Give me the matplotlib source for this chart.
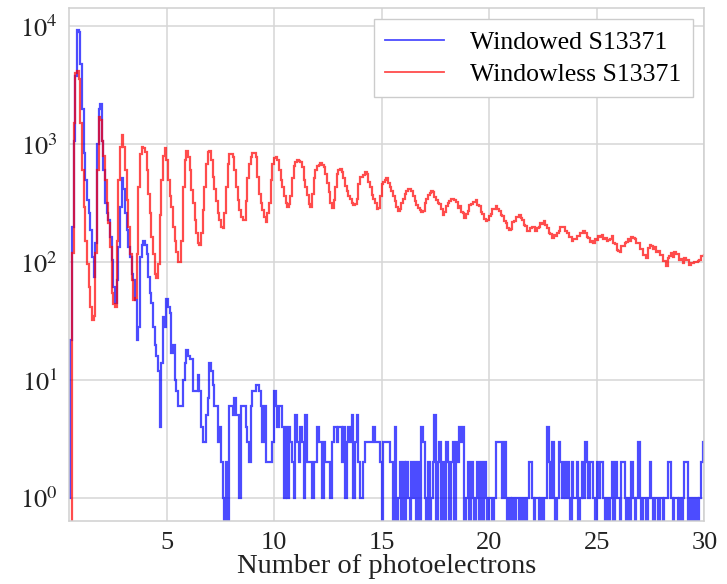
import numpy as np
import matplotlib
matplotlib.use("Agg")
import matplotlib.pyplot as plt

# ---- binning (13 bins per photoelectron, starting at 0.45 pe) ----
bin_start = 0.45
bins_per_pe = 13

# ---- Windowed S13371 (blue) counts per bin, one row per photoelectron ----
blue_counts = [
    1, 22, 200, 1070, 3800, 9300, 9000, 4800, 2000, 840, 500, 335, 260,   # 0.45-1.45
    186, 110, 75, 145, 1000, 2000, 2200, 1070, 600, 315, 260, 227, 163,   # 1.45-2.45
    104, 62, 45, 70, 134, 295, 520, 420, 260, 186, 134, 110, 80,          # 2.45-3.45
    70, 48, 22, 28, 110, 139, 150, 140, 118, 75, 55, 45, 28,              # 3.45-4.45
    20, 16, 12, 4, 14, 34, 28, 49, 42, 37, 17, 20, 10,                    # 4.45-5.45
    8, 6, 6, 6, 10, 14, 18, 16, 15, 15, 8, 8, 8,                          # 5.45-6.45
    11, 8, 4, 3, 3, 5, 7, 14, 12, 9, 6, 6, 3,                             # 6.45-7.45
    4, 2, 1, 0, 2, 0, 6, 6, 5, 7, 5, 5, 1,                                # 7.45-8.45
    6, 6, 6, 4, 3, 2, 6, 8, 8, 9, 9, 8, 6,                                # 8.45-9.45
    3, 6, 2, 2, 2, 2, 3, 8, 6, 4, 6, 6, 4,                                # 9.45-10.45
    1, 4, 1, 4, 3, 2, 1, 5, 3, 2, 4, 3, 1,                                # 10.45-11.45
    5, 2, 2, 2, 1, 2, 2, 4, 3, 3, 1, 3, 2,                                # 11.45-12.45
    2, 2, 1, 3, 4, 4, 3, 4, 4, 2, 4, 1, 3,                                # 12.45-13.45
    4, 3, 5, 1, 3, 5, 2, 1, 1, 2, 3, 3, 3,                                # 13.45-14.45
    3, 3, 4, 3, 3, 3, 2, 0, 3, 3, 3, 3, 2,                                # 14.45-15.45
    2, 0, 4, 0, 1, 2, 0, 2, 0, 2, 1, 0, 2,                                # 15.45-16.45
    1, 2, 0, 2, 0, 4, 3, 1, 0, 2, 0, 1, 2,                                # 16.45-17.45
    5, 0, 2, 3, 0, 2, 0, 3, 2, 0, 2, 3, 0,                                # 17.45-18.45
    3, 2, 4, 3, 4, 0, 1, 2, 0, 2, 1, 0, 1,                                # 18.45-19.45
    2, 0, 2, 0, 2, 1, 0, 1, 1, 0, 1, 3, 3,                                # 19.45-20.45
    3, 3, 1, 3, 1, 0, 1, 0, 1, 0, 1, 1, 0,                                # 20.45-21.45
    1, 0, 1, 0, 1, 2, 2, 1, 0, 1, 1, 0, 1,                                # 21.45-22.45
    0, 1, 1, 4, 2, 1, 3, 1, 0, 1, 3, 2, 1,                                # 22.45-23.45
    2, 1, 2, 1, 0, 2, 1, 1, 2, 0, 1, 2, 1,                                # 23.45-24.45
    3, 2, 1, 2, 2, 1, 0, 2, 1, 2, 2, 1, 0,                                # 24.45-25.45
    1, 0, 1, 2, 0, 2, 1, 1, 0, 2, 2, 1, 0,                                # 25.45-26.45
    1, 0, 2, 1, 0, 1, 3, 1, 0, 1, 1, 0, 1,                                # 26.45-27.45
    2, 1, 0, 1, 1, 0, 1, 1, 0, 1, 1, 2, 2,                                # 27.45-28.45
    1, 0, 1, 1, 0, 1, 0, 1, 2, 2, 0, 1, 0,                                # 28.45-29.45
    1, 0, 1, 0, 1, 2, 3, 2,                                               # 29.45-30.06
]

# ---- Windowless S13371 (red) counts per bin ----
red_counts = [
    0, 0, 120, 1500, 4000, 4200, 3600, 1500, 600, 295, 150, 97, 62,            # 0.45-1.45
    42, 32, 35, 120, 600, 1700, 1600, 1070, 800, 500, 315, 215, 134,           # 1.45-2.45
    55, 44, 42, 150, 500, 950, 1200, 950, 600, 335, 200, 118, 70,              # 2.45-3.45
    48, 50, 118, 430, 830, 950, 930, 860, 600, 380, 260, 163, 118,             # 3.45-4.45
    80, 73, 97, 250, 500, 800, 920, 730, 500, 360, 295, 200, 150,              # 4.45-5.45
    122, 100, 100, 150, 430, 730, 875, 780, 600, 410, 315, 227, 175,           # 5.45-6.45
    145, 139, 175, 275, 430, 685, 850, 875, 730, 530, 420, 330, 260,           # 6.45-7.45
    227, 200, 193, 260, 430, 685, 830, 830, 780, 600, 430, 335, 275,           # 7.45-8.45
    240, 227, 227, 330, 520, 685, 780, 845, 845, 780, 530, 380, 315,           # 8.45-9.45
    275, 240, 220, 260, 315, 500, 685, 760, 780, 730, 600, 500, 430,           # 9.45-10.45
    360, 315, 295, 310, 360, 520, 650, 700, 730, 720, 710, 640, 500,           # 10.45-11.45
    430, 370, 310, 295, 380, 520, 600, 650, 670, 690, 670, 640, 560,           # 11.45-12.45
    470, 390, 320, 285, 335, 430, 560, 600, 610, 580, 520, 440, 400,           # 12.45-13.45
    365, 340, 320, 304, 310, 340, 460, 525, 530, 545, 582, 560, 480,           # 13.45-14.45
    430, 370, 340, 315, 280, 290, 360, 460, 480, 500, 512, 470, 430,           # 14.45-15.45
    400, 360, 330, 295, 270, 280, 315, 345, 380, 400, 420, 415, 400,           # 15.45-16.45
    360, 330, 305, 290, 275, 265, 270, 320, 340, 370, 385, 400, 390,           # 16.45-17.45
    355, 335, 320, 310, 280, 250, 265, 300, 315, 330, 340, 345, 338,           # 17.45-18.45
    325, 290, 300, 265, 262, 238, 258, 270, 305, 312, 325, 322, 335,           # 18.45-19.45
    305, 300, 268, 258, 230, 225, 228, 248, 255, 280, 282, 298, 280,           # 19.45-20.45
    270, 250, 244, 222, 214, 196, 188, 192, 220, 224, 240, 242, 252,           # 20.45-21.45
    238, 228, 205, 203, 184, 184, 195, 198, 200, 182, 196, 198, 215,           # 21.45-22.45
    212, 224, 205, 196, 176, 172, 160, 170, 168, 178, 182, 198, 200,           # 22.45-23.45
    200, 182, 178, 164, 162, 150, 157, 158, 166, 168, 178, 175, 184,           # 23.45-24.45
    178, 162, 160, 148, 150, 146, 158, 155, 165, 162, 170, 158, 160,           # 24.45-25.45
    150, 154, 156, 166, 146, 142, 126, 124, 122, 138, 136, 146, 148,           # 25.45-26.45
    158, 152, 163, 160, 158, 145, 146, 130, 128, 115, 115, 108, 132,           # 26.45-27.45
    140, 138, 128, 133, 122, 124, 114, 115, 102, 103, 92, 108, 112,            # 27.45-28.45
    120, 110, 122, 118, 117, 105, 106, 98, 108, 104, 104, 95, 99,              # 28.45-29.45
    98, 100, 101, 103, 104, 112, 113, 114,                                     # 29.45-30.06
]

series_labels = ["Windowed S13371", "Windowless S13371"]
x_ticks = [5, 10, 15, 20, 25, 30]
y_ticks = [1, 10, 100, 1000, 10000]
x_label = "Number of photoelectrons"

plt.rcParams["font.family"] = ["Liberation Serif", "DejaVu Serif"]
plt.rcParams["mathtext.fontset"] = "stix"

fig = plt.figure(figsize=(7.27, 5.84), dpi=100)
ax = fig.add_axes([0.095, 0.108, 0.874, 0.879])

n_bins = len(blue_counts)
edges = bin_start + np.arange(n_bins + 1) / bins_per_pe

ax.stairs(np.array(blue_counts, float), edges, color=(0.0, 0.0, 1.0),
          alpha=0.7, lw=1.6, baseline=None, label=series_labels[0])
ax.stairs(np.array(red_counts, float), edges, color=(1.0, 0.0, 0.0),
          alpha=0.7, lw=1.6, baseline=None, label=series_labels[1])

ax.set_yscale("log")
ax.set_ylim(0.638, 14400)
ax.set_xlim(0.465, 30.0)
ax.set_xticks(x_ticks)
ax.set_xticklabels([str(t) for t in x_ticks])
ax.set_yticks(y_ticks)
ax.set_yticklabels([r"$10^{%d}$" % int(np.log10(t)) for t in y_ticks])
ax.yaxis.set_minor_locator(matplotlib.ticker.NullLocator())

ax.grid(True, color="#d6d6d6", lw=1.1)
ax.set_axisbelow(True)
for s in ax.spines.values():
    s.set_color("#d0d0d0")
    s.set_linewidth(1.1)
ax.tick_params(length=0, labelsize=19, colors="#222222", pad=8)
ax.set_xlabel(x_label, fontsize=20.5, color="#222222", labelpad=0)

leg = ax.legend(loc="upper right", fontsize=18.5, frameon=True, fancybox=False,
                edgecolor="#cccccc", framealpha=1.0, handlelength=2.3,
                borderpad=0.45, labelspacing=0.35, handletextpad=1.0,
                borderaxespad=0.45)
leg.get_frame().set_linewidth(1.0)
for h in leg.get_lines():
    h.set_linewidth(1.3)

fig.savefig("out.png", dpi=100)
